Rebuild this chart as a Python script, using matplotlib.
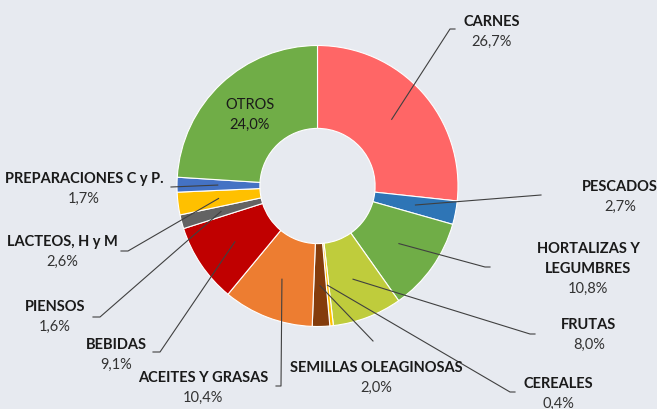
import numpy as np
import matplotlib.pyplot as plt

# Datos del gráfico (porcentajes)
categorias = ['CARNES', 'PESCADOS', 'HORTALIZAS Y\nLEGUMBRES', 'FRUTAS', 'CEREALES',
              'SEMILLAS OLEAGINOSAS', 'ACEITES Y GRASAS', 'BEBIDAS', 'PIENSOS',
              'LACTEOS, H y M', 'PREPARACIONES C y P.', 'OTROS']
valores = [26.7, 2.7, 10.8, 8.0, 0.4, 2.0, 10.4, 9.1, 1.6, 2.6, 1.7, 24.0]
colores = ['#FF6666', '#2E75B6', '#70AD47', '#BFCC3C', '#FFC000', '#843C0C',
           '#ED7D31', '#C00000', '#636363', '#FFC000', '#4472C4', '#70AD47']

fondo = '#E7EAF0'
W, H = 657, 410
centro = (317.5, H - 187)
radio = 140.5

# posiciones de etiquetas (px) y codo de la línea guía
etiquetas = [
    (492, 22, 'center', (450, 30), (455, 30)),
    (620, 187, 'center', (541, 196), None),
    (588, 249, 'center', (485, 268), (490, 268)),
    (589, 325, 'center', (530, 335), (535, 335)),
    (558, 384, 'center', (510, 393), (515, 393)),
    (376, 368, 'center', (373, 342), None),
    (203, 378, 'center', (281, 387), (276, 387)),
    (116, 345, 'center', (160, 353), (153, 353)),
    (55, 307, 'center', (100, 318), (93, 318)),
    (62, 242, 'center', (128, 252), (121, 252)),
    (84, 179, 'center', (171, 188), None),
    None,
]

plt.rcParams['font.family'] = ['Lato', 'DejaVu Sans']
fig = plt.figure(figsize=(W / 100, H / 100), dpi=100, facecolor=fondo)
ax = fig.add_axes([0, 0, 1, 1])
ax.set_facecolor(fondo)

wedges, _ = ax.pie(valores, colors=colores, startangle=90, counterclock=False,
                   center=centro, radius=radio,
                   wedgeprops=dict(width=radio * 0.59, edgecolor='white', linewidth=0.8))

ax.set_xlim(0, W)
ax.set_ylim(0, H)
ax.set_aspect('equal')
ax.axis('off')

def pct(v):
    return f'{v:.1f}%'.replace('.', ',')

for w, cat, v, et in zip(wedges, categorias, valores, etiquetas):
    ang = np.deg2rad((w.theta1 + w.theta2) / 2)
    if et is None:
        # OTROS va dentro del anillo
        ax.text(250, H - 105, cat, ha='center', va='center', fontsize=10.5, color='#1a1a1a')
        ax.text(250, H - 125, pct(v), ha='center', va='center', fontsize=10.5, color='#1a1a1a')
        continue
    x, y, ha, codo, fin = et
    x0 = centro[0] + 0.71 * radio * np.cos(ang)
    y0 = centro[1] + 0.71 * radio * np.sin(ang)
    xs = [x0, codo[0]]
    ys = [y0, H - codo[1]]
    if fin is not None:
        xs.append(fin[0])
        ys.append(H - fin[1])
    ax.plot(xs, ys, color='#404040', linewidth=0.8)
    lineas = cat.split('\n')
    for i, l in enumerate(lineas):
        ax.text(x, H - y - 20 * i, l, ha=ha, va='center', fontsize=10.5,
                fontweight='bold', color='#1a1a1a')
    ax.text(x, H - y - 20 * len(lineas), pct(v), ha=ha, va='center', fontsize=10.5,
            color='#333333')

plt.savefig('out.png', dpi=100, facecolor=fondo)
